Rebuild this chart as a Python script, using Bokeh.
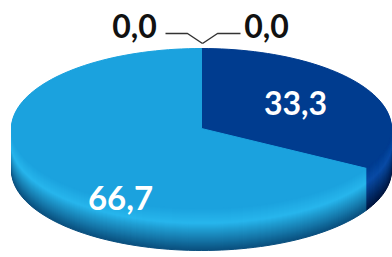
import math
from bokeh.plotting import figure
from bokeh.models import Range1d, ColumnDataSource
from bokeh.core.properties import value
from bokeh.embed import file_html
from bokeh.resources import INLINE

# ---- data ----
categories = ["A", "B", "C", "D"]
values = [0.0, 33.3, 66.7, 0.0]
value_labels = ["0,0", "33,3", "66,7", "0,0"]

# ---- style / geometry ----
face_colors = {"A": "#003C8F", "B": "#003C8F", "C": "#1BA2DE", "D": "#1BA2DE"}
hi_colors = {"A": "#0A4CA6", "B": "#0A4CA6", "C": "#27B6ED", "D": "#27B6ED"}
low_colors = {"A": "#00163F", "B": "#00163F", "C": "#0A4F7E", "D": "#0A4F7E"}
CX, CY, A, B, DEPTH = 201.0, 128.0, 190.0, 80.0, 42


def hex2rgb(h):
    h = h.lstrip("#")
    return [int(h[i:i + 2], 16) for i in (0, 2, 4)]


def mix(c1, c2, t):
    a, b = hex2rgb(c1), hex2rgb(c2)
    return "#%02x%02x%02x" % tuple(int(round(a[i] + (b[i] - a[i]) * t)) for i in range(3))


def layer_color(cat, d):
    t = d / DEPTH
    if t <= 0.35:
        return mix(face_colors[cat], hi_colors[cat], t / 0.35)
    return mix(hi_colors[cat], low_colors[cat], (t - 0.35) / 0.65)


total = sum(values)
angles = []
cum = 0.0
for v in values:
    a0 = 90.0 - cum / total * 360.0
    cum += v
    a1 = 90.0 - cum / total * 360.0
    angles.append((a0, a1))

xs, ys, cols = [], [], []
for d in list(range(DEPTH, 0, -1)) + [0]:
    for cat, v, (a0, a1) in zip(categories, values, angles):
        if v <= 0:
            continue
        n = max(int(abs(a0 - a1) / 2), 4)
        px, py = [CX], [CY + d]
        for k in range(n + 1):
            t = math.radians(a0 + (a1 - a0) * k / n)
            px.append(CX + A * math.cos(t))
            py.append(CY + d - B * math.sin(t))
        xs.append(px)
        ys.append(py)
        cols.append(face_colors[cat] if d == 0 else layer_color(cat, d))

p = figure(width=392, height=257, output_backend="svg", toolbar_location=None,
           x_range=Range1d(0, 392), y_range=Range1d(257, 0), min_border=0)
p.axis.visible = False
p.grid.visible = False
p.outline_line_color = None
p.background_fill_color = "white"
p.border_fill_color = "white"

p.patches(xs="xs", ys="ys", fill_color="c", line_color="c", line_width=1,
          source=ColumnDataSource(dict(xs=xs, ys=ys, c=cols)))

# leader lines for zero slices
p.line(x=[165, 187, 202], y=[33, 33, 43], line_color="#333333", line_width=1.5)
p.line(x=[202, 217, 240], y=[43, 33, 33], line_color="#333333", line_width=1.5)

# labels
lab_pos = {"A": (266, 25), "B": (295, 102), "C": (120, 197), "D": (134, 25)}
lab_col = {"A": "#111111", "B": "white", "C": "white", "D": "#111111"}
lab_size = {"A": "32px", "B": "32px", "C": "33px", "D": "32px"}
for cat, lab in zip(categories, value_labels):
    x, y = lab_pos[cat]
    p.text(x=[x], y=[y], text=[lab], text_align="center", text_baseline="middle",
           text_color=lab_col[cat], text_font=value("Lato"), text_font_style="bold",
           text_font_size=lab_size[cat])

open("out.html", "w").write(file_html(p, INLINE))
